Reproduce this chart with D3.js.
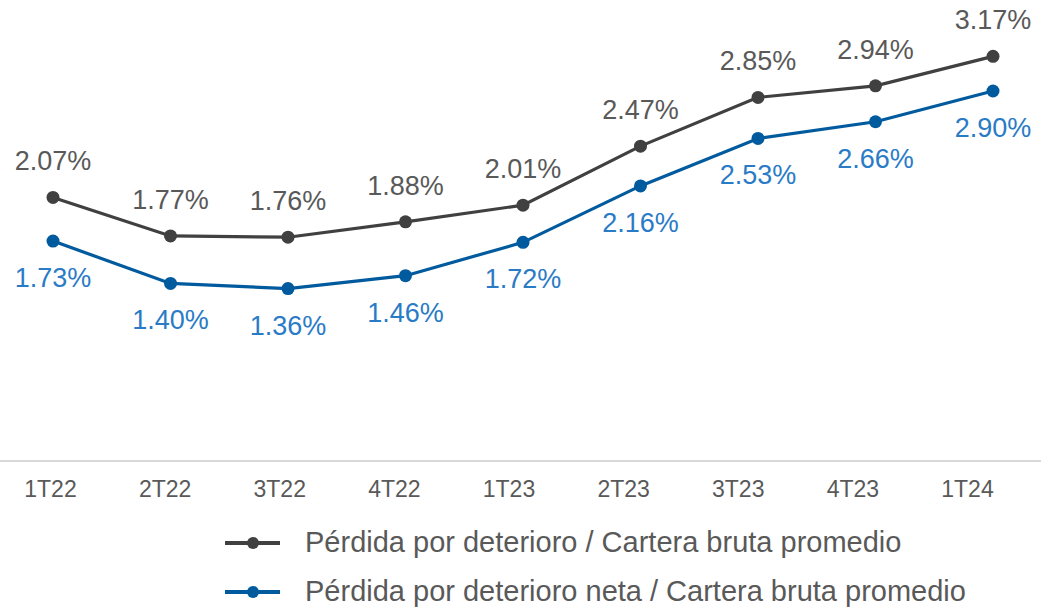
<!DOCTYPE html>
<html>
<head>
<meta charset="utf-8">
<script src="https://cdn.jsdelivr.net/npm/d3@7/dist/d3.min.js"></script>
<style>
  html, body { margin: 0; padding: 0; background: #ffffff; }
  svg { display: block; font-family: "Liberation Sans", Arial, sans-serif; }
</style>
</head>
<body>
<svg id="chart" width="1041" height="609"></svg>
<script>
// Quarterly impairment ratios
const quarters = ["1T22", "2T22", "3T22", "4T22", "1T23", "2T23", "3T23", "4T23", "1T24"];
const grossRatio = [2.07, 1.77, 1.76, 1.88, 2.01, 2.47, 2.85, 2.94, 3.17];
const netRatio = [1.73, 1.40, 1.36, 1.46, 1.72, 2.16, 2.53, 2.66, 2.90];
const seriesNames = [
  "Pérdida por deterioro / Cartera bruta promedio",
  "Pérdida por deterioro neta / Cartera bruta promedio"
];

const W = 1041, H = 609;
const svg = d3.select("#chart");

const x = d3.scalePoint().domain(quarters).range([53, 993]);
const xAxisScale = d3.scalePoint().domain(quarters).range([50, 967]);
const y = d3.scaleLinear().domain([0, 3.5]).range([463, 14]);

const series = [
  { name: seriesNames[0], values: grossRatio, line: "#404040", text: "#595959", dy: -27 },
  { name: seriesNames[1], values: netRatio, line: "#005a9e", text: "#2a7bc6", dy: 46 }
];

// baseline
svg.append("line")
  .attr("x1", 0).attr("x2", W)
  .attr("y1", y(0) - 2).attr("y2", y(0) - 2)
  .attr("stroke", "#d9d9d9").attr("stroke-width", 2);

// category axis
const axis = svg.append("g")
  .attr("transform", `translate(0,${y(0) - 2})`)
  .call(d3.axisBottom(xAxisScale).tickSize(0).tickPadding(20));
axis.select(".domain").remove();
axis.selectAll("text")
  .attr("font-size", 23)
  .attr("font-family", "Liberation Sans, Arial, sans-serif")
  .attr("fill", "#595959");

const line = d3.line().x((d, i) => x(quarters[i])).y(d => y(d));

series.forEach(s => {
  const g = svg.append("g");
  g.append("path")
    .datum(s.values)
    .attr("d", line)
    .attr("fill", "none")
    .attr("stroke", s.line)
    .attr("stroke-width", 3.2);
  g.selectAll("circle")
    .data(s.values)
    .join("circle")
    .attr("cx", (d, i) => x(quarters[i]))
    .attr("cy", d => y(d))
    .attr("r", 6.5)
    .attr("fill", s.line);
  g.selectAll("text")
    .data(s.values)
    .join("text")
    .attr("x", (d, i) => x(quarters[i]))
    .attr("y", d => y(d) + s.dy)
    .attr("text-anchor", "middle")
    .attr("font-size", 27)
    .attr("fill", s.text)
    .text(d => d.toFixed(2) + "%");
});

// legend
const legend = svg.append("g");
series.forEach((s, i) => {
  const ly = 543 + i * 49;
  legend.append("line")
    .attr("x1", 225).attr("x2", 280)
    .attr("y1", ly).attr("y2", ly)
    .attr("stroke", s.line).attr("stroke-width", 4);
  legend.append("circle")
    .attr("cx", 253).attr("cy", ly).attr("r", 6).attr("fill", s.line);
  legend.append("text")
    .attr("x", 305).attr("y", ly + 9)
    .attr("font-size", 29)
    .attr("fill", "#595959")
    .text(s.name);
});
</script>
</body>
</html>
